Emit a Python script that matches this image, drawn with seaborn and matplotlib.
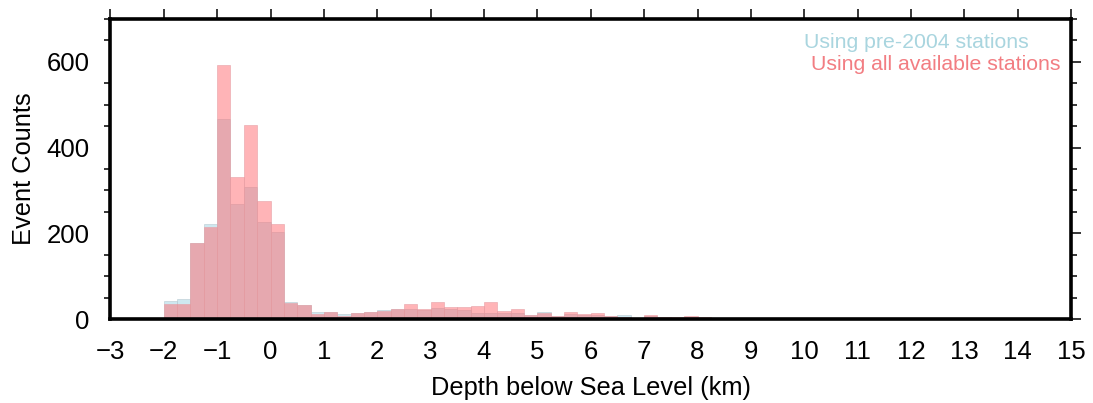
import numpy as np
import pandas as pd
import matplotlib
matplotlib.use("Agg")
import matplotlib.pyplot as plt
from matplotlib.ticker import MultipleLocator
import seaborn as sns

# Depth bins (km below sea level), 0.25 km wide, left edges from -2 to 14.75
bin_left = np.arange(-2.0, 15.0, 0.25)

# Event counts per bin, relocated with all available stations
counts_all = [
    35, 35, 177, 214, 593, 331, 453, 276,
    221, 37, 33, 11, 16, 8, 13, 16,
    19, 24, 35, 24, 40, 28, 27, 30,
    39, 19, 23, 9, 13, 7, 16, 11,
    13, 7, 5, 3, 9, 5, 4, 6,
    4, 3, 2, 2, 3, 2, 1, 1,
    1, 1, 1, 1, 1, 1, 1, 1,
    0, 0, 0, 0, 0, 1, 1, 0,
    1, 1, 0, 0,
]

# Event counts per bin, relocated with the pre-2004 station set only
counts_pre2004 = [
    42, 46, 177, 222, 466, 268, 308, 226,
    202, 39, 33, 16, 16, 11, 13, 16,
    21, 24, 23, 21, 25, 23, 21, 15,
    15, 15, 15, 9, 16, 7, 12, 9,
    10, 6, 9, 3, 7, 4, 3, 5,
    3, 3, 3, 2, 3, 2, 2, 1,
    1, 1, 1, 1, 1, 1, 1, 1,
    0, 0, 0, 0, 0, 1, 1, 0,
    1, 1, 0, 0,
]

label_pre2004 = "Using pre-2004 stations"
label_all = "Using all available stations"
xlabel = "Depth below Sea Level (km)"
ylabel = "Event Counts"

width = 0.25
centers = bin_left + width / 2
bin_range = (bin_left[0], bin_left[-1] + width)

df_pre = pd.DataFrame({"depth": centers, "count": counts_pre2004})
df_all = pd.DataFrame({"depth": centers, "count": counts_all})

sns.set_style("white")
plt.rcParams["font.family"] = ["Liberation Sans", "DejaVu Sans"]
plt.rcParams["text.color"] = "black"
plt.rcParams["axes.labelcolor"] = "black"
plt.rcParams["xtick.color"] = "black"
plt.rcParams["ytick.color"] = "black"

fig = plt.figure(figsize=(10.93, 4.03), dpi=100)
ax = fig.add_axes([0.101, 0.2084, 0.879, 0.7446])

blue = "#9fd2e2"
pink = "#ff6a70"

sns.histplot(data=df_pre, x="depth", weights="count",
             binwidth=width, binrange=bin_range, color=blue, alpha=0.5,
             edgecolor="#b9c9d0", linewidth=0.4, ax=ax)
sns.histplot(data=df_all, x="depth", weights="count",
             binwidth=width, binrange=bin_range, color=pink, alpha=0.5,
             edgecolor="#e6a0a6", linewidth=0.4, ax=ax)

ax.set_xlim(-3, 15)
ax.set_ylim(0, 700)

ax.xaxis.set_major_locator(MultipleLocator(1))
ax.yaxis.set_major_locator(MultipleLocator(200))
ax.yaxis.set_minor_locator(MultipleLocator(50))

for side in ax.spines.values():
    side.set_linewidth(2.6)
    side.set_color("black")

ax.tick_params(axis="both", which="major", direction="out", length=7,
               width=1.1, labelsize=18.5, top=True, right=True,
               labeltop=False, labelright=False, pad=8, color="black",
               labelcolor="black")
ax.tick_params(axis="y", which="minor", direction="out", length=4,
               width=1.1, left=True, right=True)

ax.set_xlabel(xlabel, fontsize=18.3, labelpad=9, color="black")
ax.set_ylabel(ylabel, fontsize=18.3, labelpad=7.5, color="black")

ax.text(10.0, 633, label_pre2004, color="#a9d5df", fontsize=15.3,
        ha="left", va="baseline")
ax.text(10.13, 581, label_all, color="#f27d82", fontsize=15.3,
        ha="left", va="baseline")

fig.savefig("out.png", dpi=100)
